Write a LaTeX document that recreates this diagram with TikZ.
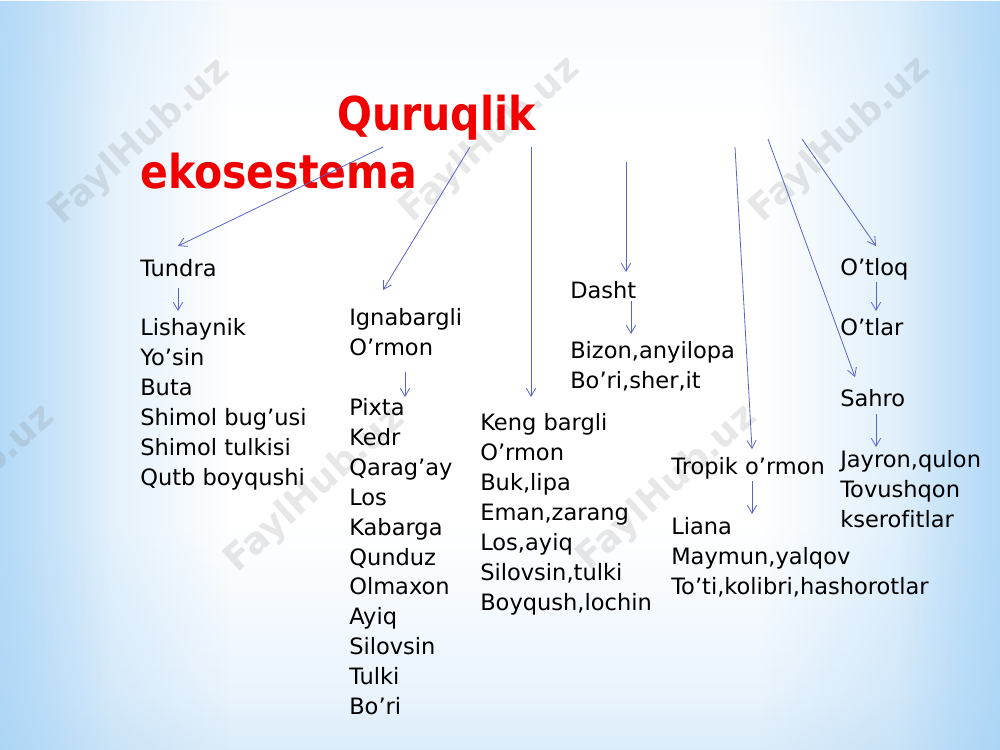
\documentclass[tikz,border=0pt]{standalone}
\usepackage{fontspec}
\setmainfont[Ligatures=NoCommon]{DejaVu Sans}
\newfontfamily\titlefont[FakeStretch=0.88]{DejaVu Sans}
\usetikzlibrary{arrows.meta,fadings}
\definecolor{arr}{RGB}{88,100,200}
\definecolor{titlered}{RGB}{240,0,0}
\definecolor{sideblue}{RGB}{160,208,245}
\definecolor{v0}{RGB}{218,234,249}
\definecolor{v1}{RGB}{236,245,253}
\definecolor{v2}{RGB}{226,239,251}
\definecolor{v3}{RGB}{212,231,247}
\definecolor{v4}{RGB}{234,244,253}
\definecolor{v5}{RGB}{226,239,251}
\pgfdeclareverticalshading{bgv}{100bp}{color(0bp)=(v0); color(9bp)=(v1); color(17bp)=(v2); color(23bp)=(v3); color(29bp)=(v4); color(40bp)=(white); color(67bp)=(white); color(84bp)=(v1); color(100bp)=(v5)}
\tikzfading[name=fadeL, left color=transparent!0, right color=transparent!100]
\tikzfading[name=fadeR, left color=transparent!100, right color=transparent!0]
\begin{document}
\begin{tikzpicture}[x=0.75pt,y=-0.75pt,
  lbl/.style={anchor=base west, inner sep=0pt, font=\fontsize{16.9}{20}\selectfont},
  ttl/.style={anchor=base west, inner sep=0pt, text=titlered, font=\titlefont\fontsize{35}{42}\selectfont\bfseries},
  wm/.style={inner sep=0pt, text=black!55, text opacity=0.17, font=\fontsize{27.5}{32}\selectfont\bfseries, rotate=42},
  con/.style={draw=arr, line width=0.6pt, -{Straight Barb[length=6pt,width=7pt]}}]
\useasboundingbox (0,0) rectangle (1000,750);
% background
\shade[shading=bgv] (0,0) rectangle (1000,750);
\fill[sideblue, opacity=0.55, path fading=fadeL] (0,0) rectangle (230,750);
\fill[sideblue, opacity=0.5, path fading=fadeL] (0,0) rectangle (110,750);
\fill[sideblue, opacity=0.55, path fading=fadeR] (760,0) rectangle (1000,750);
\fill[sideblue, opacity=0.55, path fading=fadeR] (900,0) rectangle (1000,750);
% watermarks
\node[wm] (w1) at (140,142) {FaylHub.uz};
\node[wm] (w2) at (490,140) {FaylHub.uz};
\node[wm] (w3) at (840,140) {FaylHub.uz};
\node[wm] (w4) at (-35,488) {FaylHub.uz};
\node[wm] (w5) at (315,490) {FaylHub.uz};
\node[wm] (w6) at (667,488) {FaylHub.uz};
% title
\node[ttl] (t1) at (337,130) {Quruqlik};
\node[ttl] (t2) at (140,188) {ekosestema};
% Tundra
\node[lbl] (tun) at (140,276) {Tundra};
\foreach \t [count=\i] in {Lishaynik,Yo’sin,Buta,Shimol bug’usi,Shimol tulkisi,Qutb boyqushi}
  \node[lbl] (tun\i) at (140,{335.5+30*(\i-1)}) {\t};
% Ignabargli
\node[lbl] (ign) at (349,325.5) {Ignabargli};
\node[lbl] (ign0) at (349,355.5) {O’rmon};
\foreach \t [count=\i] in {Pixta,Kedr,Qarag’ay,Los,Kabarga,Qunduz,Olmaxon,Ayiq,Silovsin,Tulki,Bo’ri}
  \node[lbl] (ign\i) at (349,{415.5+29.9*(\i-1)}) {\t};
% Keng bargli
\node[lbl] (ken) at (480,430.5) {Keng bargli};
\foreach \t [count=\i] in {O’rmon,{Buk,lipa},{Eman,zarang},{Los,ayiq},{Silovsin,tulki},{Boyqush,lochin}}
  \node[lbl] (ken\i) at (480,{460.5+30*(\i-1)}) {\t};
% Dasht
\node[lbl] (das) at (570,298.5) {Dasht};
\node[lbl] (das1) at (570,358.5) {Bizon,anyilopa};
\node[lbl] (das2) at (570,388.5) {Bo’ri,sher,it};
% Tropik
\node[lbl] (tro) at (671,474.5) {Tropik o’rmon};
\node[lbl] (tro1) at (671,534.5) {Liana};
\node[lbl] (tro2) at (671,564.5) {Maymun,yalqov};
\node[lbl] (tro3) at (671,594.5) {To’ti,kolibri,hashorotlar};
% O'tloq / Sahro
\node[lbl] (otl) at (840,275.5) {O’tloq};
\node[lbl] (otl1) at (840,335.5) {O’tlar};
\node[lbl] (sah) at (840,406.5) {Sahro};
\node[lbl] (sah1) at (840,467.5) {Jayron,qulon};
\node[lbl] (sah2) at (840,497.5) {Tovushqon};
\node[lbl] (sah3) at (840,527.5) {kserofitlar};
% connector ends
\coordinate (s1) at (383,147); \coordinate (e1) at (178,246);
\coordinate (s2) at (470,147); \coordinate (e2) at (383,290);
\coordinate (s3) at (531,147); \coordinate (e3) at (531,397);
\coordinate (s4) at (626,162); \coordinate (e4) at (626,272);
\coordinate (s5) at (735,147); \coordinate (e5) at (752,449);
\coordinate (s6) at (768,139); \coordinate (e6) at (855,377);
\coordinate (s7) at (802,139); \coordinate (e7) at (876,246);
\coordinate (u1) at (178,288); \coordinate (v1) at (178,311);
\coordinate (u2) at (405,372); \coordinate (v2) at (405,397);
\coordinate (u3) at (631,301); \coordinate (v3) at (631,334);
\coordinate (u4) at (752,481); \coordinate (v4) at (752,514);
\coordinate (u5) at (876,282); \coordinate (v5) at (876,311);
\coordinate (u6) at (876,414); \coordinate (v6) at (876,447);
\foreach \k in {1,...,7} \draw[con] (s\k) -- (e\k);
\foreach \k in {1,...,6} \draw[con] (u\k) -- (v\k);
\end{tikzpicture}
\end{document}
